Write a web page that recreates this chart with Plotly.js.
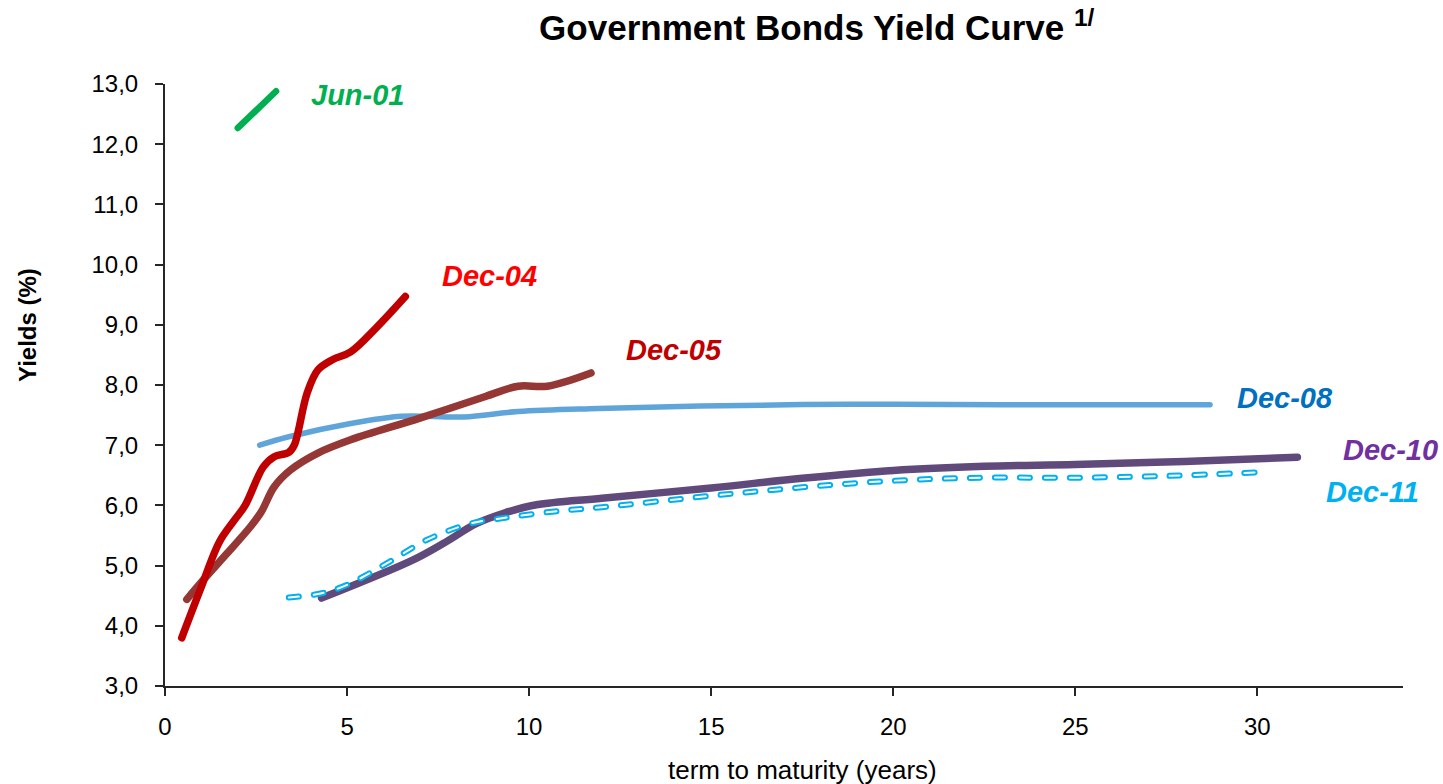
<!DOCTYPE html>
<html>
<head>
<meta charset="utf-8">
<script src="https://cdn.plot.ly/plotly-3.0.1.min.js"></script>
<style>
  html, body { margin: 0; padding: 0; background: #ffffff; }
  #chart { width: 1443px; height: 784px; }
  /* rounded line ends, as in the printed curves */
  #chart .js-line { stroke-linecap: round; stroke-linejoin: round; }
</style>
</head>
<body>
<div id="chart"></div>
<script>
// Yield curves by date: term to maturity (years) vs yield (%)
const jun01Term = [2.0, 3.05];
const jun01Yield = [12.27, 12.88];

const dec04Term = [0.46, 1.0, 1.5, 1.9, 2.2, 2.7, 3.0, 3.4, 3.55, 3.9, 4.2, 4.6, 5.1, 5.8, 6.6];
const dec04Yield = [3.80, 4.65, 5.40, 5.75, 6.00, 6.64, 6.81, 6.88, 7.00, 7.86, 8.25, 8.42, 8.55, 8.95, 9.47];

const dec05Term = [0.6, 1.05, 1.7, 2.35, 2.65, 3.0, 3.45, 4.2, 5.1, 7.0, 8.8, 9.7, 10.5, 11.7];
const dec05Yield = [4.44, 4.76, 5.20, 5.65, 5.90, 6.31, 6.59, 6.87, 7.09, 7.45, 7.81, 7.98, 7.98, 8.20];

const dec08Term = [2.6, 3.4, 5.1, 6.5, 8.2, 9.7, 11.9, 14.7, 18.8, 23.0, 28.7];
const dec08Yield = [7.00, 7.14, 7.36, 7.48, 7.47, 7.56, 7.61, 7.65, 7.68, 7.67, 7.67];

const dec10Term = [4.3, 6.8, 7.65, 8.56, 9.3, 10.2, 12.0, 15.0, 17.5, 20.0, 22.5, 25.0, 28.0, 31.1];
const dec10Yield = [4.46, 5.09, 5.37, 5.70, 5.87, 6.01, 6.12, 6.29, 6.45, 6.58, 6.65, 6.68, 6.73, 6.80];

const dec11Term = [3.4, 4.3, 5.0, 6.1, 7.2, 8.4, 9.3, 10.7, 12.0, 15.0, 17.5, 20.0, 22.5, 25.0, 27.5, 30.05];
const dec11Yield = [4.47, 4.54, 4.68, 5.04, 5.43, 5.70, 5.79, 5.90, 5.97, 6.16, 6.30, 6.41, 6.46, 6.46, 6.49, 6.55];

const seriesNames = ['Jun-01', 'Dec-04', 'Dec-05', 'Dec-08', 'Dec-10', 'Dec-11'];
const xTickValues = [0, 5, 10, 15, 20, 25, 30];
const yTickValues = [3, 4, 5, 6, 7, 8, 9, 10, 11, 12, 13];

const FONT = 'Arial, "Liberation Sans", Helvetica, sans-serif';

function curve(x, y, color, width, dash) {
  return {
    x: x, y: y, type: 'scatter', mode: 'lines',
    line: { color: color, width: width, shape: 'spline', smoothing: 1, dash: dash || 'solid' },
    hoverinfo: 'skip', showlegend: false
  };
}

const traces = [
  curve(jun01Term, jun01Yield, '#00B050', 6.5),
  curve(dec08Term, dec08Yield, '#60A5DA', 5.5),
  curve(dec05Term, dec05Yield, '#953735', 7.5),
  curve(dec04Term, dec04Yield, '#C00000', 7.5),
  curve(dec10Term, dec10Yield, '#604A7B', 7.5),
  // Dec-11: hollow dashes drawn as a cyan dash with a white core
  curve(dec11Term, dec11Yield, '#00B0F0', 6, '10px,15px'),
  curve(dec11Term, dec11Yield, '#FFFFFF', 2, '10px,15px')
];

// Series labels next to each curve
const labelColors = ['#00B050', '#FF0000', '#C00000', '#0070C0', '#7030A0', '#00B0F0'];
const labelSpots = [[5.3, 12.82], [8.9, 9.81], [13.98, 8.58], [30.77, 7.78], [33.65, 6.92], [33.16, 6.22]];

const annotations = seriesNames.map((name, i) => ({
  text: '<b><i>' + name + '</i></b>',
  x: labelSpots[i][0], y: labelSpots[i][1], xref: 'x', yref: 'y',
  xanchor: 'center', yanchor: 'middle', showarrow: false,
  font: { family: FONT, size: 29, color: labelColors[i] }
}));

// Axis titles
annotations.push({
  text: '<b>Yields (%)</b>', textangle: -90,
  x: -0.1107, y: 0.5997, xref: 'paper', yref: 'paper',
  xanchor: 'center', yanchor: 'middle', showarrow: false,
  font: { family: FONT, size: 24, color: '#000000' }
});
annotations.push({
  text: 'term to maturity (years)',
  x: 0.5153, y: -0.1395, xref: 'paper', yref: 'paper',
  xanchor: 'center', yanchor: 'middle', showarrow: false,
  font: { family: FONT, size: 26, color: '#000000' }
});

const layout = {
  width: 1443, height: 784,
  paper_bgcolor: '#ffffff', plot_bgcolor: '#ffffff',
  separators: ',.',
  margin: { l: 165, r: 40, t: 84, b: 98, pad: 0 },
  title: {
    text: '<b>Government Bonds Yield Curve <sup>1/</sup></b>',
    font: { family: FONT, size: 35, color: '#000000' },
    x: 0.566, xref: 'container', xanchor: 'center',
    y: 0.964, yref: 'container', yanchor: 'middle'
  },
  xaxis: {
    range: [0, 34], tickvals: xTickValues, ticktext: xTickValues.map(String),
    showgrid: false, zeroline: false,
    showline: true, linecolor: '#262626', linewidth: 2,
    ticks: 'outside', ticklen: 8, tickwidth: 2, tickcolor: '#262626',
    ticklabelstandoff: 10,
    tickfont: { family: FONT, size: 24, color: '#000000' }
  },
  yaxis: {
    range: [3, 13], tickvals: yTickValues, tickformat: '.1f',
    showgrid: false, zeroline: false,
    showline: true, linecolor: '#262626', linewidth: 2,
    ticks: 'outside', ticklen: 8, tickwidth: 2, tickcolor: '#262626',
    ticklabelstandoff: 12,
    tickfont: { family: FONT, size: 24, color: '#000000' }
  },
  annotations: annotations,
  showlegend: false
};

Plotly.newPlot('chart', traces, layout, { staticPlot: true, displayModeBar: false });
</script>
</body>
</html>
